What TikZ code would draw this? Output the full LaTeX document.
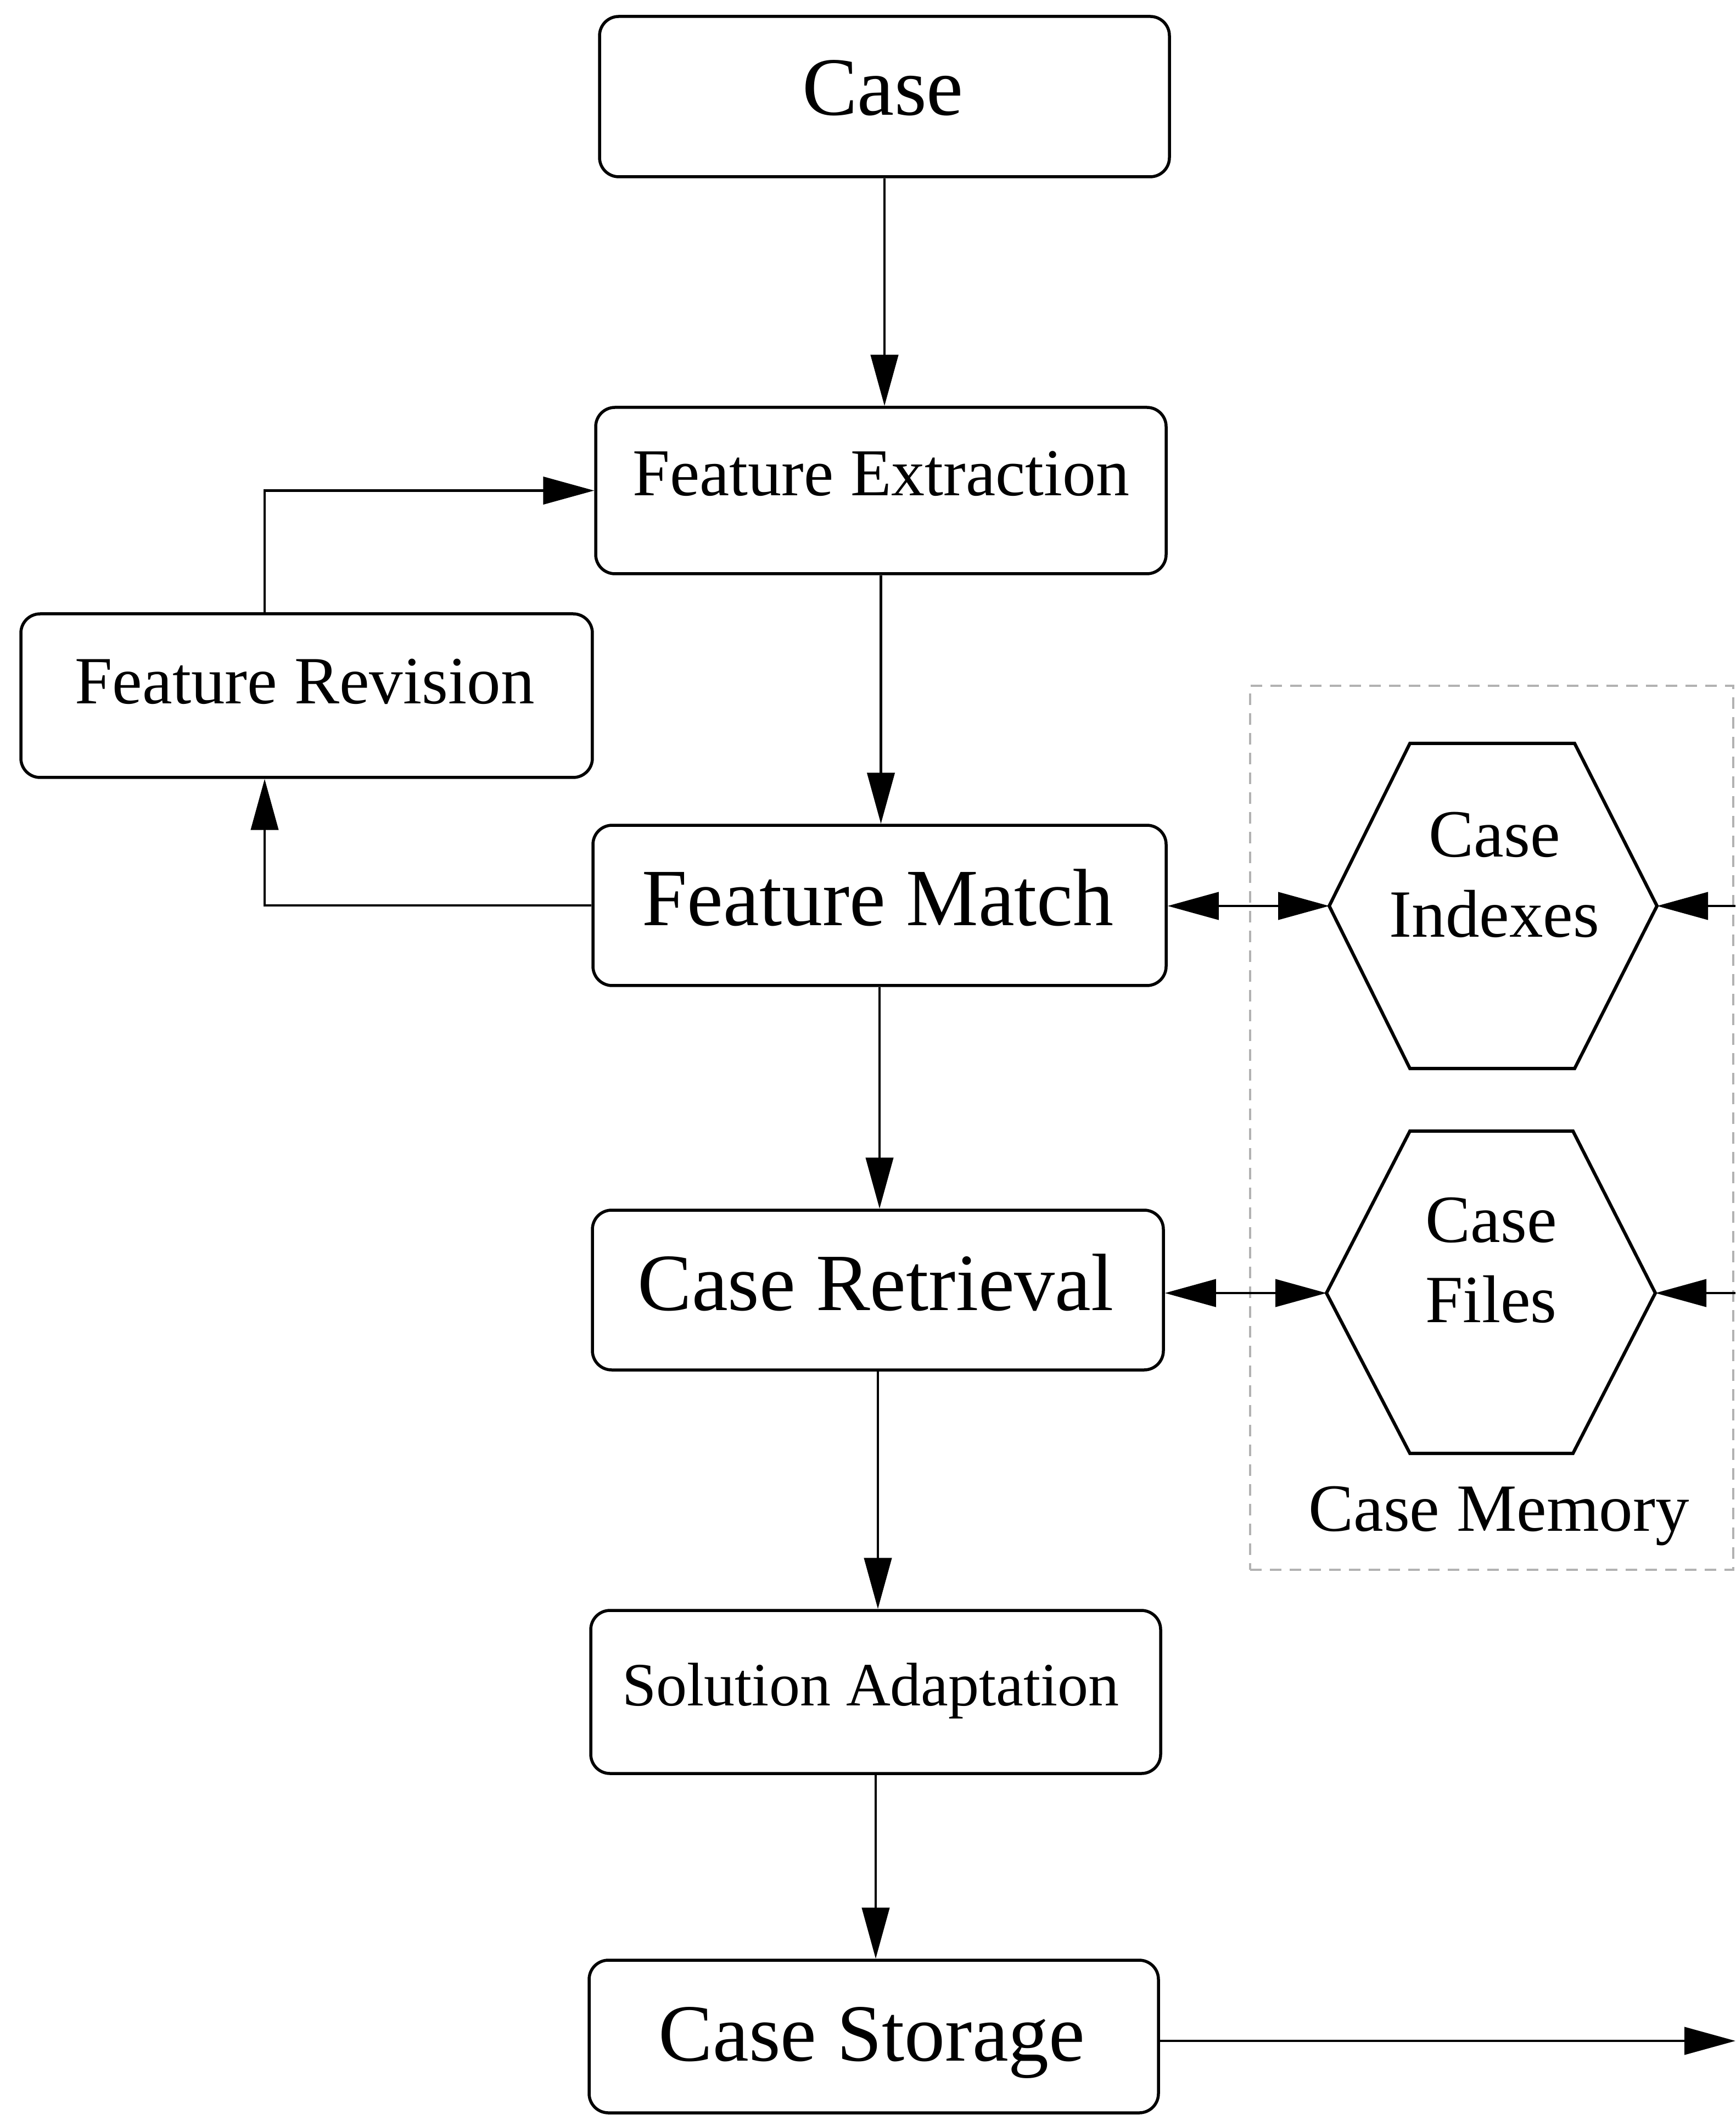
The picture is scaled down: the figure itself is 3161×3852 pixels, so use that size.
\documentclass[tikz,border=0pt]{standalone}
\usepackage{fontspec}
\setmainfont{Liberation Serif}
\usetikzlibrary{arrows.meta}
\begin{document}
\begin{tikzpicture}[x=0.1pt,y=-0.1pt,
  procbox/.style={draw, line width=0.55pt, rounded corners=3.5pt, inner sep=0pt},
  lbl/.style={inner sep=0pt, anchor=base},
  hexlbl/.style={inner sep=0pt, anchor=center, align=center, font=\fontsize{12.3}{14.6}\selectfont},
  flow/.style={line width=0.45pt, -{Triangle[length=9.3pt,width=5pt]}},
  biflow/.style={line width=0.45pt, {Triangle[length=9.3pt,width=5pt]}-{Triangle[length=9.3pt,width=5pt]}},
  hexa/.style={line width=0.6pt, line join=miter},
  memframe/.style={draw=gray!60, line width=0.35pt, dash pattern=on 2.1pt off 1.5pt, inner sep=0pt}]
\useasboundingbox[fill=white] (0,0) rectangle (3161,3852);

% process boxes
\node[procbox, minimum width=103.8pt, minimum height=29.2pt] (case) at (1611,176) {};
\node[procbox, minimum width=103.9pt, minimum height=30.3pt] (fe) at (1604.5,893.5) {};
\node[procbox, minimum width=104.1pt, minimum height=29.8pt] (fr) at (558.5,1267) {};
\node[procbox, minimum width=104.4pt, minimum height=29.2pt] (fm) at (1602,1649) {};
\node[procbox, minimum width=104pt, minimum height=29.1pt] (cr) at (1599,2349.5) {};
\node[procbox, minimum width=103.8pt, minimum height=29.7pt] (sa) at (1595,3081.5) {};
\node[procbox, minimum width=103.7pt, minimum height=27.8pt] (cs) at (1591.5,3709) {};

% labels
\node[lbl, font=\fontsize{15.1}{18}\selectfont] (case-t) at (1608,210) {Case};
\node[lbl, font=\fontsize{12.2}{14.6}\selectfont] (fe-t) at (1605,903) {Feature Extraction};
\node[lbl, font=\fontsize{12.3}{14.6}\selectfont] (fr-t) at (555,1282) {Feature Revision};
\node[lbl, font=\fontsize{14.8}{17.8}\selectfont] (fm-t) at (1599,1685) {Feature Match};
\node[lbl, font=\fontsize{14.8}{17.8}\selectfont] (cr-t) at (1595,2386) {Case Retrieval};
\node[lbl, font=\fontsize{11.2}{13.4}\selectfont] (sa-t) at (1586,3106) {Solution Adaptation};
\node[lbl, font=\fontsize{14.8}{17.8}\selectfont] (cs-t) at (1588,3753) {Case Storage};

% case memory frame
\node[memframe, minimum width=88pt, minimum height=161pt] (mem) at (2717,2054) {};
\node[lbl, font=\fontsize{12.3}{14.6}\selectfont] (mem-t) at (2730,2788) {Case Memory};

% hexagons
\coordinate (ciL) at (2421,1650);
\coordinate (ciR) at (3018,1650);
\draw[hexa] (ciL) -- (2568,1354) -- (2868,1354) -- (ciR) -- (2868,1946) -- (2568,1946) -- cycle;
\node[hexlbl] (ci) at (2722,1593) {Case\\Indexes};

\coordinate (cfL) at (2416,2355);
\coordinate (cfR) at (3015,2355);
\draw[hexa] (cfL) -- (2568,2060) -- (2865,2060) -- (cfR) -- (2865,2647) -- (2568,2647) -- cycle;
\node[hexlbl] (cf) at (2716,2295) {Case\\Files};

% main flow
\draw[flow] (case.south) -- (case.south |- fe.north);
\draw[flow] (fe.south) -- (fe.south |- fm.north);
\draw[flow] (fm.south) -- (fm.south |- cr.north);
\draw[flow] (cr.south) -- (cr.south |- sa.north);
\draw[flow] (sa.south) -- (sa.south |- cs.north);

% revision loop
\coordinate (lx) at (482,0);
\draw[flow] (fm.west) -| (lx |- fr.south);
\draw[flow] (lx |- fr.north) |- (fe.west);

% memory links
\draw[biflow] (fm.east |- ciL) -- (ciL);
\draw[biflow] (cr.east |- cfL) -- (cfL);
\coordinate (inI) at (3161,1650);
\coordinate (inF) at (3161,2355);
\draw[flow] (inI) -- (ciR);
\draw[flow] (inF) -- (cfR);

% storage output
\coordinate (outS) at (3161,3717);
\draw[flow] (cs.east |- outS) -- (outS);
\end{tikzpicture}
\end{document}
